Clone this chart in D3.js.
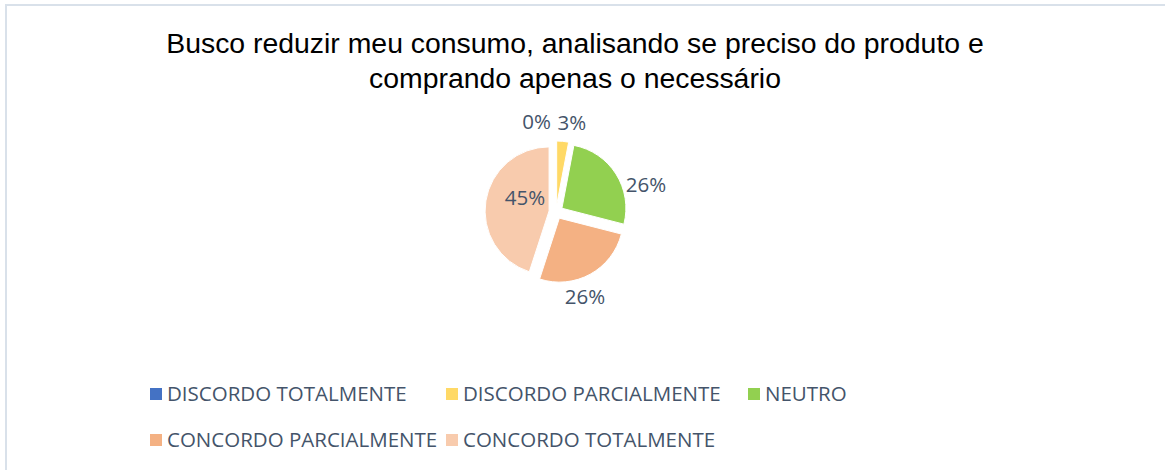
<!DOCTYPE html>
<html>
<head>
<meta charset="utf-8">
<script src="https://cdn.jsdelivr.net/npm/d3@7"></script>
<style>
  body { margin: 0; background: #fff; }
</style>
</head>
<body>
<div id="chart"></div>
<script>
const categories = ["DISCORDO TOTALMENTE", "DISCORDO PARCIALMENTE", "NEUTRO", "CONCORDO PARCIALMENTE", "CONCORDO TOTALMENTE"];
const values = [0, 3, 26, 26, 45];
const colors = ["#4472c4", "#ffd966", "#92d050", "#f4b183", "#f8cbad"];
const titleLines = ["Busco reduzir meu consumo, analisando se preciso do produto e", "comprando apenas o necessário"];

const width = 1165;
const height = 470;

const svg = d3.select("#chart")
    .append("svg")
    .attr("width", width)
    .attr("height", height)
    .attr("viewBox", [0, 0, width, height]);

// chart frame (cut off at right/bottom)
svg.append("rect")
    .attr("x", 6)
    .attr("y", 5)
    .attr("width", 1170)
    .attr("height", 480)
    .attr("fill", "#fff")
    .attr("stroke", "#d9e1ea")
    .attr("stroke-width", 2);

// title
svg.append("text")
    .attr("x", 575)
    .attr("y", 53)
    .attr("text-anchor", "middle")
    .style("font-family", "Liberation Sans, Arial, sans-serif")
    .style("font-size", "28.4px")
    .style("fill", "#000")
    .selectAll("tspan")
    .data(titleLines)
    .join("tspan")
    .attr("x", 575)
    .attr("dy", (d, i) => i === 0 ? 0 : 35)
    .text(d => d);

// pie
const cx = 556, cy = 212, radius = 64, explode = 7;
const pie = d3.pie().sort(null).value(d => d.value);
const arc = d3.arc().innerRadius(0).outerRadius(radius);
const data = categories.map((c, i) => ({name: c, value: values[i], color: colors[i]}));
const arcs = pie(data);

const g = svg.append("g").attr("transform", `translate(${cx},${cy})`);

function offset(d, r) {
    const a = (d.startAngle + d.endAngle) / 2;
    return [Math.sin(a) * r, -Math.cos(a) * r];
}

g.selectAll("path")
    .data(arcs)
    .join("path")
    .attr("d", arc)
    .attr("transform", d => `translate(${offset(d, explode)})`)
    .attr("fill", d => d.data.color)
    .attr("stroke", "#fff")
    .attr("stroke-width", 1);

// labels - best fit tweaks (angle offset in deg, radius, anchor)
const labelLayout = {
    "DISCORDO TOTALMENTE": {da: 0, r: 90, anchor: "end", dx: -5},
    "DISCORDO PARCIALMENTE": {da: 0, r: 90, anchor: "start", dx: -7},
    "NEUTRO": {da: 15, r: 92, anchor: "start", dx: -18},
    "CONCORDO PARCIALMENTE": {da: 10, r: 90, anchor: "middle", dx: 0},
    "CONCORDO TOTALMENTE": {da: 15, r: 34, anchor: "middle", dx: 0}
};

g.selectAll("text.lbl")
    .data(arcs)
    .join("text")
    .attr("class", "lbl")
    .attr("transform", d => {
        const L = labelLayout[d.data.name];
        const a = (d.startAngle + d.endAngle) / 2 + L.da * Math.PI / 180;
        return `translate(${Math.sin(a) * L.r + L.dx},${-Math.cos(a) * L.r})`;
    })
    .attr("text-anchor", d => labelLayout[d.data.name].anchor)
    .attr("dy", "0.35em")
    .style("font-family", "Open Sans, Lato, sans-serif")
    .style("font-size", "20.5px")
    .style("fill", "#44546a")
    .text(d => d3.format(".0f")(d.data.value) + "%");

// legend
const legendPos = [[150, 394], [446, 394], [748, 394], [150, 440], [446, 440]];
const legend = svg.append("g")
    .selectAll("g")
    .data(data)
    .join("g")
    .attr("transform", (d, i) => `translate(${legendPos[i][0]},${legendPos[i][1]})`);

legend.append("rect")
    .attr("x", 0)
    .attr("y", -6)
    .attr("width", 12)
    .attr("height", 12)
    .attr("fill", d => d.color);

legend.append("text")
    .attr("x", 17)
    .attr("y", 0)
    .attr("dy", "0.35em")
    .style("font-family", "Open Sans, Lato, sans-serif")
    .style("font-size", "20.5px")
    .style("fill", "#44546a")
    .text(d => d.name);
</script>
</body>
</html>
